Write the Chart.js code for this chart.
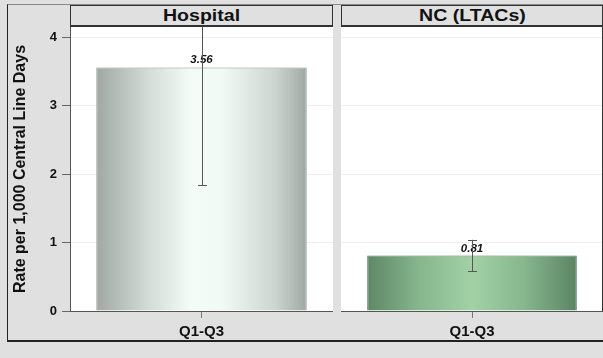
<!DOCTYPE html>
<html>
<head>
<meta charset="utf-8">
<script src="https://cdn.jsdelivr.net/npm/chart.js@4.4.1/dist/chart.umd.min.js"></script>
<style>
  html, body { margin: 0; padding: 0; background: #e0e0e0; }
  body { width: 603px; height: 358px; position: relative; overflow: hidden; font-family: "Liberation Sans", Arial, sans-serif; }
  #frame { position: absolute; left: 7px; top: 4px; width: 597px; height: 338px; box-sizing: border-box;
           border-left: 1px solid #222; border-top: 1px solid #8a8a8a; border-bottom: 2px solid #222; }
  .header { position: absolute; top: 5px; height: 22px; box-sizing: border-box; background: #e0e0e0;
            border: 1px solid #333; border-bottom-width: 2px; font-weight: bold; font-size: 17px;
            text-align: center; line-height: 20px; color: #111; }
  .header span { display: inline-block; transform: scaleX(1.15); }
  .wrap { position: absolute; top: 27px; height: 314px; }
</style>
</head>
<body>
<div id="frame"></div>
<div class="header" style="left:70px;width:263px;"><span>Hospital</span></div>
<div class="header" style="left:341px;width:262px;"><span>NC (LTACs)</span></div>
<div class="wrap" style="left:7px;width:326px;"><canvas id="chart-hospital"></canvas></div>
<div class="wrap" style="left:341px;width:262px;"><canvas id="chart-nc"></canvas></div>
<script>
// === data ===
const PERIODS = ["Q1-Q3"];
const HOSPITAL_RATE = [3.56];
const HOSPITAL_LOW = [1.84];
const HOSPITAL_HIGH = [5.3];   // runs off the top of the panel
const NC_RATE = [0.81];
const NC_LOW = [0.58];
const NC_HIGH = [1.04];
const Y_TICKS = [0, 1, 2, 3, 4];
const Y_TITLE = "Rate per 1,000 Central Line Days";
const Y_MAX = 4.15;

const FONT = "'Liberation Sans', Arial, sans-serif";
const BAR_PCT = 0.8;

// horizontal shaded fill across each bar
function barGradient(stops) {
  return ctx => {
    const chart = ctx.chart;
    const area = chart.chartArea;
    const xs = chart.scales && chart.scales.x;
    if (!area || !xs) return stops[2][1];
    const cx = xs.getPixelForValue(ctx.dataIndex);
    const w = area.width * BAR_PCT;
    const g = chart.ctx.createLinearGradient(cx - w / 2, 0, cx + w / 2, 0);
    stops.forEach(s => g.addColorStop(s[0], s[1]));
    return g;
  };
}

// white plot area
const plotBg = {
  id: "plotBg",
  beforeDraw(chart) {
    const a = chart.chartArea, c = chart.ctx;
    c.save();
    c.fillStyle = "#ffffff";
    c.fillRect(a.left, a.top, a.right - a.left, a.bottom - a.top);
    c.restore();
  }
};

// value labels + error bars
const overlays = {
  id: "overlays",
  afterDatasetsDraw(chart, args, opts) {
    const c = chart.ctx, a = chart.chartArea, y = chart.scales.y;
    const meta = chart.getDatasetMeta(0);
    const vals = chart.data.datasets[0].data;
    c.save();
    meta.data.forEach((bar, i) => {
      // label
      c.font = "italic bold 11.5px " + FONT;
      c.fillStyle = "#111";
      c.textAlign = "center";
      c.textBaseline = "alphabetic";
      c.fillText(vals[i].toFixed(2), bar.x, bar.y - 4);
      // error bar
      c.beginPath();
      c.rect(a.left, a.top, a.right - a.left, a.bottom - a.top);
      c.clip();
      const lo = y.getPixelForValue(opts.low[i]);
      const hi = y.getPixelForValue(opts.high[i]);
      c.strokeStyle = "#555";
      c.lineWidth = 1;
      c.beginPath();
      c.moveTo(Math.round(bar.x) + 0.5, lo);
      c.lineTo(Math.round(bar.x) + 0.5, hi);
      [lo, hi].forEach(p => {
        c.moveTo(Math.round(bar.x) - 4, Math.round(p) + 0.5);
        c.lineTo(Math.round(bar.x) + 5, Math.round(p) + 0.5);
      });
      c.stroke();
    });
    c.restore();
  }
};

// dark right edge of the last panel
const panelEdges = {
  id: "panelEdges",
  afterDraw(chart, args, opts) {
    const c = chart.ctx, a = chart.chartArea;
    if (!opts.right) return;
    c.save();
    c.strokeStyle = "#333";
    c.lineWidth = 1;
    c.beginPath();
    c.moveTo(a.right - 0.5, a.top);
    c.lineTo(a.right - 0.5, a.bottom);
    c.stroke();
    c.restore();
  }
};

function makeChart(id, rates, low, high, stops, border, withAxis) {
  return new Chart(document.getElementById(id), {
    type: "bar",
    data: {
      labels: PERIODS,
      datasets: [{
        data: rates,
        backgroundColor: barGradient(stops),
        borderColor: border,
        borderWidth: 1,
        barPercentage: BAR_PCT,
        categoryPercentage: 1
      }]
    },
    options: {
      responsive: true,
      maintainAspectRatio: false,
      animation: false,
      layout: { padding: 0 },
      plugins: {
        legend: { display: false },
        tooltip: { enabled: false },
        overlays: { low, high },
        panelEdges: { right: !withAxis }
      },
      scales: {
        x: {
          grid: { display: true, drawOnChartArea: false, tickLength: 7, color: "#777", offset: false },
          border: { color: "#555" },
          ticks: { color: "#111", padding: 5, font: { family: FONT, size: 15, weight: "bold" } },
          afterFit: s => { s.height = 30; s.paddingLeft = 0; s.paddingRight = 0; }
        },
        y: {
          min: 0,
          max: Y_MAX,
          afterBuildTicks: s => { s.ticks = Y_TICKS.map(v => ({ value: v })); },
          afterFit: s => { s.width = withAxis ? 63 : 0; s.paddingTop = 0; s.paddingBottom = 0; },
          grid: { color: "#efefef", tickLength: withAxis ? 8 : 0, tickColor: "#666" },
          border: { display: withAxis, color: "#555" },
          ticks: { display: withAxis, color: "#111", padding: 5, font: { family: FONT, size: 13, weight: "bold" } },
          title: { display: withAxis, text: Y_TITLE, color: "#111", padding: { top: 4, bottom: 0 },
                   font: { family: FONT, size: 16, weight: "bold" } }
        }
      }
    },
    plugins: [plotBg, overlays, panelEdges]
  });
}

document.addEventListener("DOMContentLoaded", () => {
  makeChart("chart-hospital", HOSPITAL_RATE, HOSPITAL_LOW, HOSPITAL_HIGH,
    [[0, "#a1a8a4"], [0.25, "#d3dcd7"], [0.45, "#f4fcf7"], [0.6, "#f2faf5"], [0.85, "#cdd5d0"], [1, "#a0a8a4"]],
    "#8a8f8c", true);
  makeChart("chart-nc", NC_RATE, NC_LOW, NC_HIGH,
    [[0, "#5d8865"], [0.25, "#86b78d"], [0.5, "#a2d1a6"], [0.75, "#86b78d"], [1, "#5b8463"]],
    "#4f7456", false);
});
</script>
</body>
</html>
